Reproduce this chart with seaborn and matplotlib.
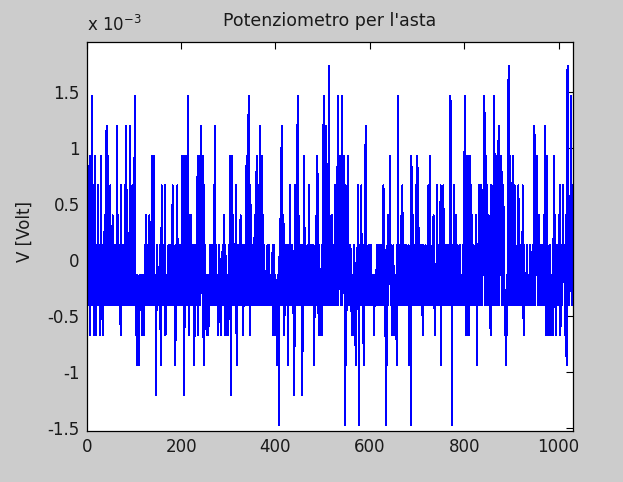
import numpy as np
import pandas as pd
import matplotlib
matplotlib.use("Agg")
import matplotlib.pyplot as plt
from matplotlib.ticker import FuncFormatter
import seaborn as sns

# ---- data ----
title = "Potenziometro per l'asta"
ylabel = "V [Volt]"
lsb_volt = 0.2673e-3          # quantisation step of the acquired signal
count_offset = 5.5            # mean removed (in ADC counts)
xlim = (0, 1030)
ylim = (-1.52e-3, 1.945e-3)
yticks = [-1.5e-3, -1.0e-3, -0.5e-3, 0.0, 0.5e-3, 1.0e-3, 1.5e-3]
xticks = [0, 200, 400, 600, 800, 1000]

adc_counts = [
    4,5,8,6,4,9,3,6,4,5,11,4,8,5,6,3,9,4,3,6,
    4,6,5,8,4,5,4,6,3,9,4,5,4,3,6,4,5,7,4,5,
    5,10,4,6,5,9,4,6,4,8,5,4,6,4,7,5,4,6,5,4,
    6,4,5,10,4,5,7,4,5,6,4,3,8,4,5,4,6,5,4,5,
    8,4,6,10,4,7,5,6,4,5,7,10,4,6,5,4,8,5,4,6,
    8,11,4,5,3,4,2,5,4,3,2,4,5,4,5,4,5,3,4,5,
    3,4,6,5,4,7,5,4,6,5,5,4,7,5,4,6,5,9,4,6,
    7,9,4,5,4,5,1,4,6,5,4,5,4,5,6,4,2,5,8,4,
    5,4,6,5,4,8,3,5,4,5,4,5,6,4,5,4,6,5,4,6,
    4,8,5,6,4,5,5,2,6,4,5,8,4,6,5,6,4,6,5,5,
    4,9,5,7,9,4,1,9,5,8,9,4,6,5,11,3,7,5,4,6,
    7,4,5,5,6,4,5,2,4,6,5,4,5,5,9,3,6,4,9,5,
    4,6,10,5,5,9,4,2,8,5,6,4,5,3,4,5,4,3,5,4,
    6,5,4,5,6,4,5,5,4,8,5,10,4,6,5,4,5,3,5,4,
    6,5,4,3,5,4,5,6,4,5,7,5,3,6,4,3,5,4,5,3,
    4,6,5,9,4,1,5,9,4,7,5,6,4,6,5,8,4,2,5,5,
    6,4,5,5,4,7,5,4,6,4,5,3,6,4,5,6,4,8,9,4,
    9,4,11,7,5,3,8,4,6,5,4,6,5,4,5,7,4,5,5,9,
    4,6,5,8,4,5,10,4,7,5,9,4,5,7,4,6,5,4,5,5,
    4,5,6,4,5,6,4,5,4,5,5,4,5,6,3,4,6,3,4,5,
    4,3,4,2,5,4,0,5,6,4,8,5,10,4,6,5,7,4,3,6,
    4,6,5,5,4,6,2,5,4,5,8,4,6,5,4,6,5,4,3,1,
    5,8,4,6,5,7,11,4,7,5,4,6,5,4,6,4,1,5,6,4,
    9,5,4,6,5,5,4,6,5,4,8,4,5,6,4,5,6,4,5,5,
    6,2,4,5,6,5,7,4,9,5,4,3,6,4,3,5,4,6,3,5,
    4,11,5,4,8,5,10,4,7,5,4,6,12,4,7,5,6,4,5,7,
    4,5,5,6,4,8,4,5,5,4,6,11,4,7,5,6,9,4,5,7,
    11,4,7,5,9,5,4,0,8,2,5,7,5,9,4,6,5,4,6,5,
    4,3,5,5,3,4,6,5,4,2,5,4,5,6,8,4,0,5,6,4,
    5,8,4,5,6,4,2,5,4,5,10,4,5,5,4,5,6,4,5,6,
    4,6,5,4,5,5,4,5,3,4,5,5,4,5,6,4,5,6,4,5,
    5,6,4,6,5,4,6,5,8,4,6,5,4,0,5,2,5,7,4,6,
    6,5,9,4,6,5,5,3,4,6,3,5,4,5,5,4,2,6,5,11,
    4,6,5,6,4,5,7,4,8,5,5,4,6,5,4,5,6,4,5,5,
    5,6,4,2,5,6,0,9,8,4,7,5,4,6,5,4,5,8,4,6,
    9,4,7,5,5,4,6,5,4,6,5,3,6,4,5,5,4,6,5,5,
    4,6,5,8,4,5,9,4,6,5,5,4,6,4,7,5,4,3,5,5,
    4,8,5,4,6,5,6,4,5,8,2,5,4,5,5,8,4,6,5,5,
    6,4,5,5,4,6,5,4,6,5,11,4,5,0,5,6,4,8,5,4,
    6,5,7,4,5,6,4,5,5,4,6,5,4,5,5,4,6,5,4,5,
    11,9,4,3,9,5,8,3,9,4,3,9,5,8,4,5,7,4,5,6,
    4,5,5,4,7,5,2,4,6,5,8,4,5,6,4,8,5,4,6,5,
    8,5,11,4,8,9,6,4,8,5,4,7,5,6,4,3,8,4,6,5,
    4,8,5,11,4,6,5,4,5,9,4,8,10,4,7,5,5,6,9,4,
    7,4,8,6,5,4,3,4,2,5,3,5,4,12,4,8,5,9,4,8,
    5,7,4,9,5,4,8,5,6,4,5,5,6,4,8,5,4,6,5,4,
    5,5,4,8,5,3,6,4,5,5,4,5,6,4,5,5,4,5,4,6,
    5,4,5,5,6,4,5,5,10,4,6,5,5,8,9,4,6,5,7,4,
    5,6,4,5,6,4,5,5,7,4,5,10,4,3,8,9,4,3,5,4,
    3,6,5,4,3,5,4,3,5,9,4,7,5,3,5,4,6,5,4,5,
    7,4,8,3,5,5,6,4,8,5,5,6,4,3,7,4,2,5,12,4,
    8,5,4,6,5,9,11,4,8,6,
]

sample = np.arange(1, len(adc_counts) + 1)
volts = (np.array(adc_counts) - count_offset) * lsb_volt
df = pd.DataFrame({"sample": sample, "volt": volts})

# ---- figure ----
sns.set_theme(style="white")
plt.rcParams["font.family"] = ["DejaVu Sans"]

W, H = 623, 482
fig = plt.figure(figsize=(W / 100, H / 100), dpi=100, facecolor="#cccccc")
left, right, top, bottom = 86.7, 572.7, 42.3, 430.7
ax = fig.add_axes([left / W, 1 - bottom / H, (right - left) / W, (bottom - top) / H])
ax.set_facecolor("white")

sns.lineplot(data=df, x="sample", y="volt", color="#0000ff", linewidth=0.72,
             estimator=None, sort=False, ax=ax, antialiased=False)

ax.set_xlim(*xlim)
ax.set_ylim(*ylim)
ax.set_xticks(xticks)
ax.set_yticks(yticks)
ax.yaxis.set_major_formatter(FuncFormatter(lambda v, p: f"{round(v * 1e3, 6) + 0:g}"))
ax.xaxis.set_major_formatter(FuncFormatter(lambda v, p: f"{v:g}"))
ax.set_xlabel("")
ax.set_ylabel("")

for s in ax.spines.values():
    s.set_color("black")
    s.set_linewidth(0.9)
    s.set_visible(True)

ax.tick_params(axis="both", which="major", direction="in", length=5, width=0.8,
               color="black", top=True, right=True, labelsize=12, labelcolor="#1a1a1a")
ax.tick_params(axis="x", pad=5.5)
ax.tick_params(axis="y", pad=5)

fig.text((left + right) / 2 / W, 1 - 26.5 / H, title, ha="center", va="baseline",
         fontsize=12.5, color="#1a1a1a")
fig.text(86.6 / W, 1 - 31 / H, r"x 10$^{-3}$", ha="left", va="baseline",
         fontsize=12, color="#1a1a1a")
fig.text(25 / W, 1 - 232 / H, ylabel, rotation=90, ha="center", va="center",
         fontsize=12, color="#1a1a1a")

fig.savefig("out.png", dpi=100, facecolor=fig.get_facecolor())
